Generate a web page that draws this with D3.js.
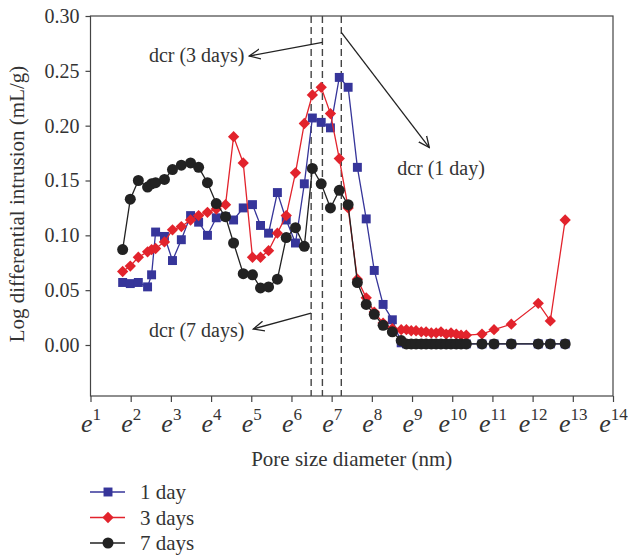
<!DOCTYPE html>
<meta charset="utf-8">
<style>
body { margin: 0; background: #fff; }
text { font-family: "Liberation Serif", "DejaVu Serif", serif; fill: #333; }
.frame { fill: none; stroke: #444; stroke-width: 1.2px; }
.series { fill: none; stroke-width: 1.3px; }
</style>
<body>
<script src="https://cdn.jsdelivr.net/npm/d3@7"></script>
<script>

var width = 628, height = 556;
var plot = {left: 90.5, right: 613, top: 16, bottom: 396};

// pore size diameter in ln(nm), shared by all three curves
var diameter = [1.80,1.99,2.19,2.42,2.52,2.62,2.84,3.04,3.26,3.49,3.69,3.91,4.13,4.36,4.56,4.80,5.03,5.23,5.43,5.65,
  5.87,6.10,6.32,6.52,6.74,6.97,7.19,7.41,7.64,7.86,8.06,8.28,8.51,8.73,8.86,8.98,9.10,9.23,9.35,9.48,
  9.60,9.72,9.85,9.97,10.10,10.22,10.35,10.74,11.04,11.47,12.14,12.44,12.81];

var oneDay = [0.057,0.056,0.057,0.053,0.064,0.103,0.099,0.077,0.096,0.118,0.112,0.100,0.116,0.117,0.114,0.125,0.128,0.109,0.102,0.139,
  0.114,0.093,0.147,0.207,0.203,0.198,0.244,0.235,0.162,0.115,0.068,0.037,0.023,0.002,0.001,0.001,0.001,0.001,0.001,0.001,
  0.001,0.001,0.001,0.001,0.001,0.001,0.001,0.001,0.001,0.001,0.001,0.001,0.001];

var threeDays = [0.067,0.072,0.080,0.085,0.087,0.088,0.094,0.105,0.108,0.114,0.118,0.121,0.124,0.128,0.190,0.166,0.080,0.080,0.086,0.102,
  0.118,0.157,0.202,0.228,0.235,0.211,0.170,0.125,0.060,0.043,0.030,0.020,0.015,0.014,0.014,0.013,0.013,0.012,0.012,0.011,
  0.011,0.012,0.010,0.011,0.010,0.009,0.009,0.010,0.014,0.019,0.038,0.022,0.114];

var sevenDays = [0.087,0.133,0.150,0.144,0.147,0.148,0.151,0.160,0.164,0.166,0.162,0.148,0.129,0.117,0.093,0.065,0.064,0.052,0.053,0.060,
  0.098,0.107,0.090,0.161,0.147,0.125,0.141,0.128,0.057,0.037,0.028,0.018,0.012,0.004,0.001,0.001,0.001,0.001,0.001,0.001,
  0.001,0.001,0.001,0.001,0.001,0.001,0.001,0.001,0.001,0.001,0.001,0.001,0.001];

var seriesNames = ["1 day", "3 days", "7 days"];
var seriesColors = ["#36359a", "#e2232c", "#222222"];
var symbolSizes = [80, 64, 95];
var symbolTurns = [0, 45, 0];   // diamond = square turned 45°

var yTicks = [0, 0.05, 0.10, 0.15, 0.20, 0.25, 0.30];
var xTicks = d3.range(1, 15);

// critical diameters (dashed lines), ln(nm)
var dcr = [6.49, 6.77, 7.24];

var notes = [
  {label: "dcr (3 days)", tx: 4.83, ty: 0.258, anchor: "end", from: [6.77, 0.276], to: [4.95, 0.2635]},
  {label: "dcr (1 day)", tx: 8.63, ty: 0.155, anchor: "start", from: [7.24, 0.285], to: [9.43, 0.180]},
  {label: "dcr (7 days)", tx: 4.83, ty: 0.0075, anchor: "end", from: [6.49, 0.029], to: [5.05, 0.0146]}
];

var x = d3.scaleLinear().domain([1, 14]).range([plot.left, plot.right]);
var y = d3.scaleLinear().domain([-0.0465, 0.30]).range([plot.bottom, plot.top]);

var svg = d3.select("body").append("svg")
    .attr("width", width)
    .attr("height", height);

svg.append("defs").append("marker")
    .attr("id", "arrow")
    .attr("viewBox", "0 -6 12 12")
    .attr("refX", 11)
    .attr("refY", 0)
    .attr("markerUnits", "userSpaceOnUse")
    .attr("markerWidth", 12)
    .attr("markerHeight", 12)
    .attr("orient", "auto")
  .append("path")
    .attr("d", "M0,-5L11,0L0,5")
    .attr("fill", "none")
    .attr("stroke", "#222")
    .attr("stroke-width", 1.3);

// frame
svg.append("rect")
    .attr("class", "frame")
    .attr("x", plot.left)
    .attr("y", plot.top)
    .attr("width", plot.right - plot.left)
    .attr("height", plot.bottom - plot.top);

// axes
var yAxis = d3.axisLeft(y).tickValues(yTicks).tickSize(5).tickPadding(6).tickFormat(d3.format(".2f"));
var gy = svg.append("g")
    .attr("transform", `translate(${plot.left},0)`)
    .call(yAxis);
gy.select(".domain").remove();
gy.selectAll(".tick line").attr("stroke", "#444").attr("stroke-width", 1.2);
gy.selectAll(".tick text")
    .attr("font-family", "Liberation Serif, serif")
    .attr("font-size", 20)
    .attr("fill", "#333");

var xAxis = d3.axisBottom(x).tickValues(xTicks).tickSize(6).tickFormat("");
var gx = svg.append("g")
    .attr("transform", `translate(0,${plot.bottom})`)
    .call(xAxis);
gx.select(".domain").remove();
gx.selectAll(".tick line").attr("stroke", "#444").attr("stroke-width", 1.2);
gx.selectAll(".tick").append("text")
    .attr("y", 36)
    .attr("text-anchor", "middle")
    .attr("font-family", "Liberation Serif, serif")
    .attr("fill", "#333")
    .each(function(d) {
      var t = d3.select(this);
      t.append("tspan").attr("font-style", "italic").attr("font-size", 26).text("e");
      t.append("tspan").attr("font-size", 17).attr("dy", -12).text(d);
    });

svg.append("text")
    .attr("x", (plot.left + plot.right) / 2)
    .attr("y", 466)
    .attr("text-anchor", "middle")
    .attr("font-size", 21)
    .text("Pore size diameter (nm)");

svg.append("text")
    .attr("transform", "translate(24,204) rotate(-90)")
    .attr("text-anchor", "middle")
    .attr("font-size", 21)
    .text("Log differential intrusion (mL/g)");

// dashed lines at critical diameters
svg.selectAll("line.dcr")
  .data(dcr)
  .enter().append("line")
    .attr("class", "dcr")
    .attr("x1", d => x(d)).attr("x2", d => x(d))
    .attr("y1", plot.top).attr("y2", plot.bottom)
    .attr("stroke", "#444")
    .attr("stroke-width", 1.4)
    .attr("stroke-dasharray", "7,4");

// series
var series = [oneDay, threeDays, sevenDays].map((vals, i) => ({
  name: seriesNames[i],
  color: seriesColors[i],
  symbol: i === 2 ? d3.symbolCircle : d3.symbolSquare,
  size: symbolSizes[i],
  turn: symbolTurns[i],
  values: vals.map((v, j) => ({d: diameter[j], v: v}))
}));

var line = d3.line().x(p => x(p.d)).y(p => y(p.v));

series.forEach(function(s) {
  var g = svg.append("g");
  g.append("path")
      .attr("class", "series")
      .attr("d", line(s.values))
      .attr("stroke", s.color);
  g.selectAll("path.pt")
    .data(s.values)
    .enter().append("path")
      .attr("class", "pt")
      .attr("transform", p => `translate(${x(p.d)},${y(p.v)}) rotate(${s.turn})`)
      .attr("d", d3.symbol().type(s.symbol).size(s.size))
      .attr("fill", s.color);
});

// annotations
notes.forEach(function(n) {
  svg.append("line")
      .attr("x1", x(n.from[0])).attr("y1", y(n.from[1]))
      .attr("x2", x(n.to[0])).attr("y2", y(n.to[1]))
      .attr("stroke", "#222")
      .attr("stroke-width", 1.3)
      .attr("marker-end", "url(#arrow)");
  svg.append("text")
      .attr("x", x(n.tx))
      .attr("y", y(n.ty))
      .attr("text-anchor", n.anchor)
      .attr("font-size", 20)
      .text(n.label);
});

// legend
var legend = svg.selectAll("g.legend")
  .data(series)
  .enter().append("g")
    .attr("class", "legend")
    .attr("transform", (d, i) => `translate(90,${492 + i * 25.5})`);

legend.append("line")
    .attr("x1", 0).attr("x2", 35)
    .attr("stroke", d => d.color)
    .attr("stroke-width", 1.3);

legend.append("path")
    .attr("transform", d => `translate(18,0) rotate(${d.turn})`)
    .attr("d", d => d3.symbol().type(d.symbol).size(d.size)())
    .attr("fill", d => d.color);

legend.append("text")
    .attr("x", 50)
    .attr("y", 7)
    .attr("font-size", 21)
    .text(d => d.name);

</script>
